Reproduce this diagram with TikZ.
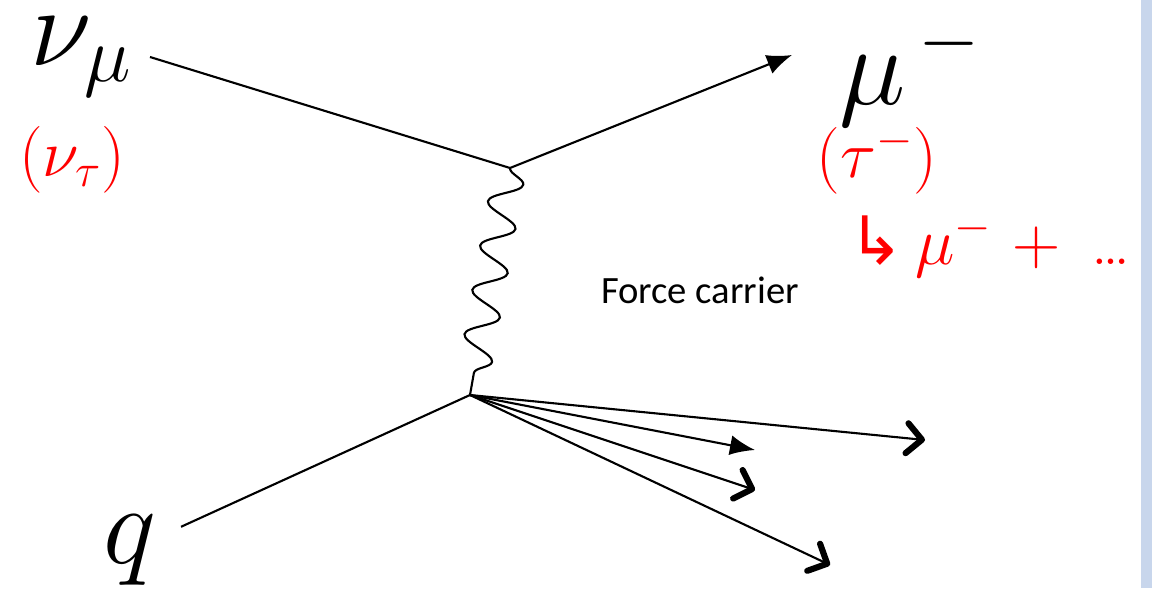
\RequirePackage{fix-cm}
\documentclass[tikz,border=0pt]{standalone}
\usepackage{fontspec}
\newfontfamily\calibri{Carlito}
\newfontfamily\symb{DejaVu Sans}
\usetikzlibrary{arrows.meta, decorations.pathmorphing}
\definecolor{Rouge}{RGB}{255,0,0}
\definecolor{BleuBord}{RGB}{200,214,236}
\tikzset{grand/.style={font=\fontsize{64}{70}\selectfont, inner sep=0pt}}
\tikzset{rouge/.style={text=Rouge, font=\fontsize{38}{44}\selectfont, inner sep=0pt}}
\tikzset{fl/.style={line width=1.2pt}}
\tikzset{flp/.style={fl, -{Latex[length=5mm, width=4mm]}}}
\tikzset{flo/.style={fl, -{Straight Barb[length=3mm, width=6mm, line width=3.5pt, round]}}}
\tikzset{boson/.style={line width=1.2pt, decorate,
  decoration={snake, segment length=0.9cm, amplitude=0.32cm}}}

\begin{document}
\begin{tikzpicture}[x=0.02cm, y=-0.02cm]
\useasboundingbox (0,0) rectangle (1152,588);
\fill[BleuBord] (1141,0) rectangle (1152,588);
% vertex
\coordinate (haut) at (510,168);
\coordinate (bas) at (470,395);
\coordinate (pmu) at (792,55);
\coordinate (p1) at (925,440);
\coordinate (p2) at (755,450);
\coordinate (p3) at (755,490);
\coordinate (p4) at (830,565);
% particules
\node[grand, anchor=east, inner xsep=10pt] (nu) at (150,57) {$\nu_\mu$};
\node[grand] (mu) at (910,72) {$\mu^{\,-}$};
\node[grand, outer sep=14pt] (q) at (130,550) {$q$};
\node[rouge] (nutau) at (72,160) {$(\nu_\tau)$};
\node[rouge] (tau) at (877,160) {$(\tau^-)$};
\node[rouge, anchor=west] (desint) at (848,245) {{\symb ↳}\,$\mu^-$\ $+$\ \,\ldots};
\node[font=\calibri\fontsize{22}{26}\selectfont] (force) at (700,290) {Force carrier};
% lignes
\draw[fl] (nu.east) -- (haut);
\draw[flp] (haut) -- (pmu);
\draw[boson] (haut) -- (bas);
\draw[fl] (q) -- (bas);
\draw[flo] (bas) -- (p1);
\draw[flp] (bas) -- (p2);
\draw[flo] (bas) -- (p3);
\draw[flo] (bas) -- (p4);
\end{tikzpicture}
\end{document}
